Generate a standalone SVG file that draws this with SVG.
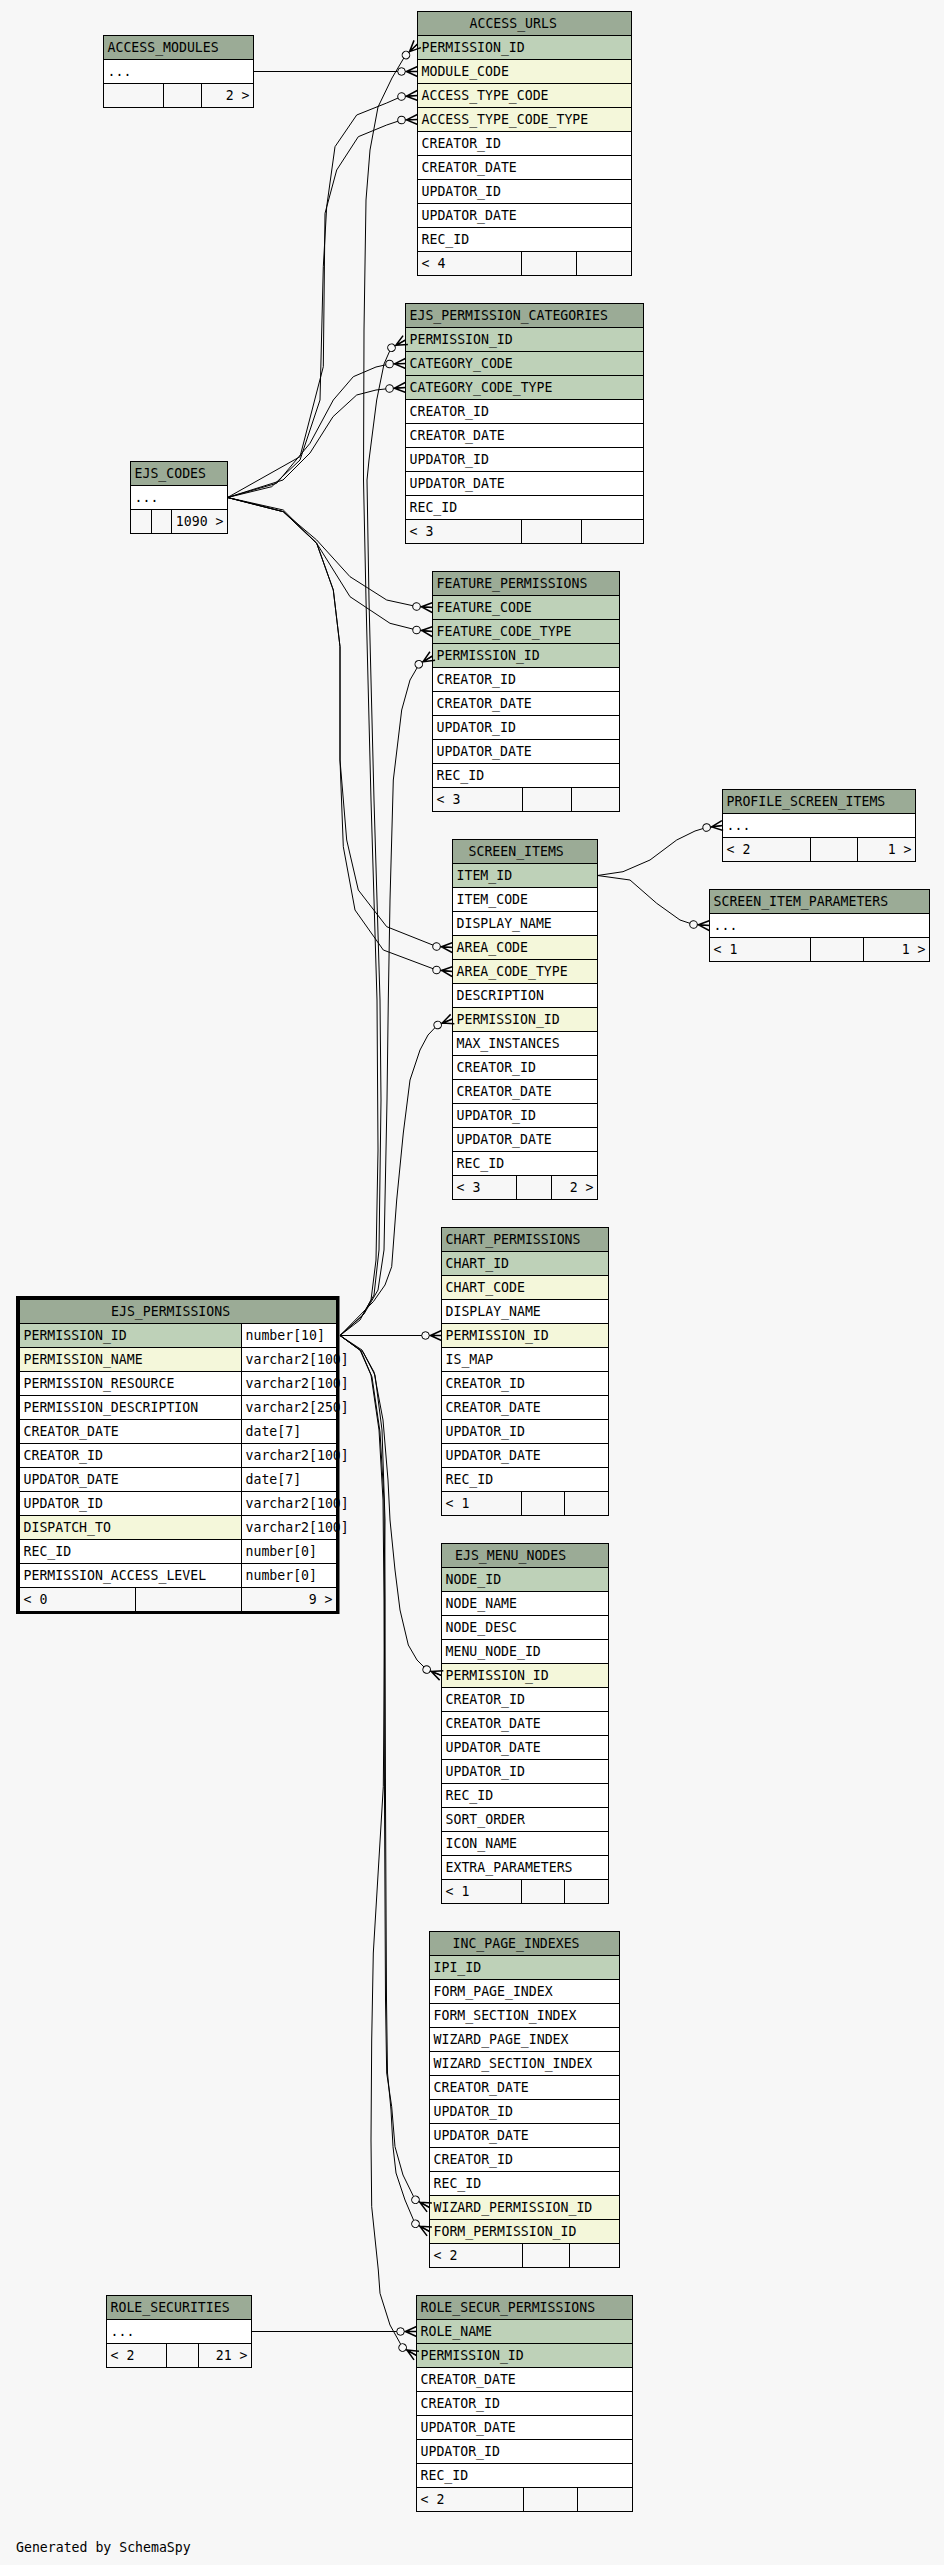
<svg xmlns="http://www.w3.org/2000/svg" width="944" height="2565" viewBox="0 0 944 2565">
<style>
rect{stroke:#000;stroke-width:1}
.h{fill:#9bab96}.pk{fill:#bed1b8}.fk{fill:#f4f7da}.w{fill:#fff}.f{fill:#f7f7f7}
.s{stroke:#000;stroke-width:1}
text{font-family:"DejaVu Sans Mono","Liberation Mono",monospace;font-size:13.2px;fill:#000}
.e{text-anchor:end}
#connectors path{fill:none;stroke:#000;stroke-width:1;marker-end:url(#crowodot)}
</style>
<defs>
<marker id="crowodot" markerUnits="userSpaceOnUse" markerWidth="28" markerHeight="16" viewBox="-24 -8 28 16" refX="0" refY="0" orient="auto" overflow="visible">
<path d="M-12,0 L0,0 M-11,0 L0,-5 M-11,0 L0,5" fill="none" stroke="#000" stroke-width="1.5"/>
<circle cx="-16" cy="0" r="3.8" fill="#f7f7f7" stroke="#000" stroke-width="1"/>
</marker>
</defs>
<rect x="0" y="0" width="944" height="2565" fill="#f7f7f7" style="stroke:none"/>

<g id="ACCESS_MODULES">
<rect class="h" x="103.5" y="35.5" width="150" height="24"/><text x="107.5" y="52">ACCESS_MODULES</text>
<rect class="w" x="103.5" y="59.5" width="150" height="24"/><text x="107.5" y="76">...</text>
<rect class="f" x="103.5" y="83.5" width="150" height="24"/><path class="s" d="M163.5,83.5V107.5M201.5,83.5V107.5"/><text class="e" x="249.5" y="100">2 &gt;</text>
</g>

<g id="ACCESS_URLS">
<rect class="h" x="417.5" y="11.5" width="214" height="24"/><text x="469.5" y="28">ACCESS_URLS</text>
<rect class="pk" x="417.5" y="35.5" width="214" height="24"/><text x="421.5" y="52">PERMISSION_ID</text>
<rect class="fk" x="417.5" y="59.5" width="214" height="24"/><text x="421.5" y="76">MODULE_CODE</text>
<rect class="fk" x="417.5" y="83.5" width="214" height="24"/><text x="421.5" y="100">ACCESS_TYPE_CODE</text>
<rect class="fk" x="417.5" y="107.5" width="214" height="24"/><text x="421.5" y="124">ACCESS_TYPE_CODE_TYPE</text>
<rect class="w" x="417.5" y="131.5" width="214" height="24"/><text x="421.5" y="148">CREATOR_ID</text>
<rect class="w" x="417.5" y="155.5" width="214" height="24"/><text x="421.5" y="172">CREATOR_DATE</text>
<rect class="w" x="417.5" y="179.5" width="214" height="24"/><text x="421.5" y="196">UPDATOR_ID</text>
<rect class="w" x="417.5" y="203.5" width="214" height="24"/><text x="421.5" y="220">UPDATOR_DATE</text>
<rect class="w" x="417.5" y="227.5" width="214" height="24"/><text x="421.5" y="244">REC_ID</text>
<rect class="f" x="417.5" y="251.5" width="214" height="24"/><path class="s" d="M521.5,251.5V275.5M576.5,251.5V275.5"/><text x="421.5" y="268">&lt; 4</text>
</g>

<g id="EJS_PERMISSION_CATEGORIES">
<rect class="h" x="405.5" y="303.5" width="238" height="24"/><text x="409.5" y="320">EJS_PERMISSION_CATEGORIES</text>
<rect class="pk" x="405.5" y="327.5" width="238" height="24"/><text x="409.5" y="344">PERMISSION_ID</text>
<rect class="pk" x="405.5" y="351.5" width="238" height="24"/><text x="409.5" y="368">CATEGORY_CODE</text>
<rect class="pk" x="405.5" y="375.5" width="238" height="24"/><text x="409.5" y="392">CATEGORY_CODE_TYPE</text>
<rect class="w" x="405.5" y="399.5" width="238" height="24"/><text x="409.5" y="416">CREATOR_ID</text>
<rect class="w" x="405.5" y="423.5" width="238" height="24"/><text x="409.5" y="440">CREATOR_DATE</text>
<rect class="w" x="405.5" y="447.5" width="238" height="24"/><text x="409.5" y="464">UPDATOR_ID</text>
<rect class="w" x="405.5" y="471.5" width="238" height="24"/><text x="409.5" y="488">UPDATOR_DATE</text>
<rect class="w" x="405.5" y="495.5" width="238" height="24"/><text x="409.5" y="512">REC_ID</text>
<rect class="f" x="405.5" y="519.5" width="238" height="24"/><path class="s" d="M521.5,519.5V543.5M581.5,519.5V543.5"/><text x="409.5" y="536">&lt; 3</text>
</g>

<g id="EJS_CODES">
<rect class="h" x="130.5" y="461.5" width="97" height="24"/><text x="134.5" y="478">EJS_CODES</text>
<rect class="w" x="130.5" y="485.5" width="97" height="24"/><text x="134.5" y="502">...</text>
<rect class="f" x="130.5" y="509.5" width="97" height="24"/><path class="s" d="M151.5,509.5V533.5M171.5,509.5V533.5"/><text class="e" x="223.5" y="526">1090 &gt;</text>
</g>

<g id="FEATURE_PERMISSIONS">
<rect class="h" x="432.5" y="571.5" width="187" height="24"/><text x="436.5" y="588">FEATURE_PERMISSIONS</text>
<rect class="pk" x="432.5" y="595.5" width="187" height="24"/><text x="436.5" y="612">FEATURE_CODE</text>
<rect class="pk" x="432.5" y="619.5" width="187" height="24"/><text x="436.5" y="636">FEATURE_CODE_TYPE</text>
<rect class="pk" x="432.5" y="643.5" width="187" height="24"/><text x="436.5" y="660">PERMISSION_ID</text>
<rect class="w" x="432.5" y="667.5" width="187" height="24"/><text x="436.5" y="684">CREATOR_ID</text>
<rect class="w" x="432.5" y="691.5" width="187" height="24"/><text x="436.5" y="708">CREATOR_DATE</text>
<rect class="w" x="432.5" y="715.5" width="187" height="24"/><text x="436.5" y="732">UPDATOR_ID</text>
<rect class="w" x="432.5" y="739.5" width="187" height="24"/><text x="436.5" y="756">UPDATOR_DATE</text>
<rect class="w" x="432.5" y="763.5" width="187" height="24"/><text x="436.5" y="780">REC_ID</text>
<rect class="f" x="432.5" y="787.5" width="187" height="24"/><path class="s" d="M522.5,787.5V811.5M571.5,787.5V811.5"/><text x="436.5" y="804">&lt; 3</text>
</g>

<g id="PROFILE_SCREEN_ITEMS">
<rect class="h" x="722.5" y="789.5" width="193" height="24"/><text x="726.5" y="806">PROFILE_SCREEN_ITEMS</text>
<rect class="w" x="722.5" y="813.5" width="193" height="24"/><text x="726.5" y="830">...</text>
<rect class="f" x="722.5" y="837.5" width="193" height="24"/><path class="s" d="M810.5,837.5V861.5M857.5,837.5V861.5"/><text x="726.5" y="854">&lt; 2</text><text class="e" x="911.5" y="854">1 &gt;</text>
</g>

<g id="SCREEN_ITEM_PARAMETERS">
<rect class="h" x="709.5" y="889.5" width="220" height="24"/><text x="713.5" y="906">SCREEN_ITEM_PARAMETERS</text>
<rect class="w" x="709.5" y="913.5" width="220" height="24"/><text x="713.5" y="930">...</text>
<rect class="f" x="709.5" y="937.5" width="220" height="24"/><path class="s" d="M810.5,937.5V961.5M863.5,937.5V961.5"/><text x="713.5" y="954">&lt; 1</text><text class="e" x="925.5" y="954">1 &gt;</text>
</g>

<g id="SCREEN_ITEMS">
<rect class="h" x="452.5" y="839.5" width="145" height="24"/><text x="468.5" y="856">SCREEN_ITEMS</text>
<rect class="pk" x="452.5" y="863.5" width="145" height="24"/><text x="456.5" y="880">ITEM_ID</text>
<rect class="w" x="452.5" y="887.5" width="145" height="24"/><text x="456.5" y="904">ITEM_CODE</text>
<rect class="w" x="452.5" y="911.5" width="145" height="24"/><text x="456.5" y="928">DISPLAY_NAME</text>
<rect class="fk" x="452.5" y="935.5" width="145" height="24"/><text x="456.5" y="952">AREA_CODE</text>
<rect class="fk" x="452.5" y="959.5" width="145" height="24"/><text x="456.5" y="976">AREA_CODE_TYPE</text>
<rect class="w" x="452.5" y="983.5" width="145" height="24"/><text x="456.5" y="1000">DESCRIPTION</text>
<rect class="fk" x="452.5" y="1007.5" width="145" height="24"/><text x="456.5" y="1024">PERMISSION_ID</text>
<rect class="w" x="452.5" y="1031.5" width="145" height="24"/><text x="456.5" y="1048">MAX_INSTANCES</text>
<rect class="w" x="452.5" y="1055.5" width="145" height="24"/><text x="456.5" y="1072">CREATOR_ID</text>
<rect class="w" x="452.5" y="1079.5" width="145" height="24"/><text x="456.5" y="1096">CREATOR_DATE</text>
<rect class="w" x="452.5" y="1103.5" width="145" height="24"/><text x="456.5" y="1120">UPDATOR_ID</text>
<rect class="w" x="452.5" y="1127.5" width="145" height="24"/><text x="456.5" y="1144">UPDATOR_DATE</text>
<rect class="w" x="452.5" y="1151.5" width="145" height="24"/><text x="456.5" y="1168">REC_ID</text>
<rect class="f" x="452.5" y="1175.5" width="145" height="24"/><path class="s" d="M516.5,1175.5V1199.5M551.5,1175.5V1199.5"/><text x="456.5" y="1192">&lt; 3</text><text class="e" x="593.5" y="1192">2 &gt;</text>
</g>

<g id="CHART_PERMISSIONS">
<rect class="h" x="441.5" y="1227.5" width="167" height="24"/><text x="445.5" y="1244">CHART_PERMISSIONS</text>
<rect class="pk" x="441.5" y="1251.5" width="167" height="24"/><text x="445.5" y="1268">CHART_ID</text>
<rect class="fk" x="441.5" y="1275.5" width="167" height="24"/><text x="445.5" y="1292">CHART_CODE</text>
<rect class="w" x="441.5" y="1299.5" width="167" height="24"/><text x="445.5" y="1316">DISPLAY_NAME</text>
<rect class="fk" x="441.5" y="1323.5" width="167" height="24"/><text x="445.5" y="1340">PERMISSION_ID</text>
<rect class="w" x="441.5" y="1347.5" width="167" height="24"/><text x="445.5" y="1364">IS_MAP</text>
<rect class="w" x="441.5" y="1371.5" width="167" height="24"/><text x="445.5" y="1388">CREATOR_ID</text>
<rect class="w" x="441.5" y="1395.5" width="167" height="24"/><text x="445.5" y="1412">CREATOR_DATE</text>
<rect class="w" x="441.5" y="1419.5" width="167" height="24"/><text x="445.5" y="1436">UPDATOR_ID</text>
<rect class="w" x="441.5" y="1443.5" width="167" height="24"/><text x="445.5" y="1460">UPDATOR_DATE</text>
<rect class="w" x="441.5" y="1467.5" width="167" height="24"/><text x="445.5" y="1484">REC_ID</text>
<rect class="f" x="441.5" y="1491.5" width="167" height="24"/><path class="s" d="M521.5,1491.5V1515.5M564.5,1491.5V1515.5"/><text x="445.5" y="1508">&lt; 1</text>
</g>

<g id="EJS_PERMISSIONS">
<rect class="h" x="19.5" y="1299.5" width="317" height="24"/><text x="111" y="1316">EJS_PERMISSIONS</text>
<rect class="pk" x="19.5" y="1323.5" width="222" height="24"/><rect class="w" x="241.5" y="1323.5" width="95" height="24"/><text x="23.5" y="1340">PERMISSION_ID</text><text x="245.5" y="1340">number[10]</text>
<rect class="fk" x="19.5" y="1347.5" width="222" height="24"/><rect class="w" x="241.5" y="1347.5" width="95" height="24"/><text x="23.5" y="1364">PERMISSION_NAME</text><text x="245.5" y="1364">varchar2[100]</text>
<rect class="w" x="19.5" y="1371.5" width="222" height="24"/><rect class="w" x="241.5" y="1371.5" width="95" height="24"/><text x="23.5" y="1388">PERMISSION_RESOURCE</text><text x="245.5" y="1388">varchar2[100]</text>
<rect class="w" x="19.5" y="1395.5" width="222" height="24"/><rect class="w" x="241.5" y="1395.5" width="95" height="24"/><text x="23.5" y="1412">PERMISSION_DESCRIPTION</text><text x="245.5" y="1412">varchar2[250]</text>
<rect class="w" x="19.5" y="1419.5" width="222" height="24"/><rect class="w" x="241.5" y="1419.5" width="95" height="24"/><text x="23.5" y="1436">CREATOR_DATE</text><text x="245.5" y="1436">date[7]</text>
<rect class="w" x="19.5" y="1443.5" width="222" height="24"/><rect class="w" x="241.5" y="1443.5" width="95" height="24"/><text x="23.5" y="1460">CREATOR_ID</text><text x="245.5" y="1460">varchar2[100]</text>
<rect class="w" x="19.5" y="1467.5" width="222" height="24"/><rect class="w" x="241.5" y="1467.5" width="95" height="24"/><text x="23.5" y="1484">UPDATOR_DATE</text><text x="245.5" y="1484">date[7]</text>
<rect class="w" x="19.5" y="1491.5" width="222" height="24"/><rect class="w" x="241.5" y="1491.5" width="95" height="24"/><text x="23.5" y="1508">UPDATOR_ID</text><text x="245.5" y="1508">varchar2[100]</text>
<rect class="fk" x="19.5" y="1515.5" width="222" height="24"/><rect class="w" x="241.5" y="1515.5" width="95" height="24"/><text x="23.5" y="1532">DISPATCH_TO</text><text x="245.5" y="1532">varchar2[100]</text>
<rect class="w" x="19.5" y="1539.5" width="222" height="24"/><rect class="w" x="241.5" y="1539.5" width="95" height="24"/><text x="23.5" y="1556">REC_ID</text><text x="245.5" y="1556">number[0]</text>
<rect class="w" x="19.5" y="1563.5" width="222" height="24"/><rect class="w" x="241.5" y="1563.5" width="95" height="24"/><text x="23.5" y="1580">PERMISSION_ACCESS_LEVEL</text><text x="245.5" y="1580">number[0]</text>
<rect class="f" x="19.5" y="1587.5" width="317" height="24"/><path class="s" d="M135.5,1587.5V1611.5M241.5,1587.5V1611.5"/><text x="23.5" y="1604">&lt; 0</text><text class="e" x="332.5" y="1604">9 &gt;</text>
<rect x="17.5" y="1297.5" width="320.5" height="315" fill="none" style="stroke-width:3"/>
</g>

<g id="EJS_MENU_NODES">
<rect class="h" x="441.5" y="1543.5" width="167" height="24"/><text x="455" y="1560">EJS_MENU_NODES</text>
<rect class="pk" x="441.5" y="1567.5" width="167" height="24"/><text x="445.5" y="1584">NODE_ID</text>
<rect class="w" x="441.5" y="1591.5" width="167" height="24"/><text x="445.5" y="1608">NODE_NAME</text>
<rect class="w" x="441.5" y="1615.5" width="167" height="24"/><text x="445.5" y="1632">NODE_DESC</text>
<rect class="w" x="441.5" y="1639.5" width="167" height="24"/><text x="445.5" y="1656">MENU_NODE_ID</text>
<rect class="fk" x="441.5" y="1663.5" width="167" height="24"/><text x="445.5" y="1680">PERMISSION_ID</text>
<rect class="w" x="441.5" y="1687.5" width="167" height="24"/><text x="445.5" y="1704">CREATOR_ID</text>
<rect class="w" x="441.5" y="1711.5" width="167" height="24"/><text x="445.5" y="1728">CREATOR_DATE</text>
<rect class="w" x="441.5" y="1735.5" width="167" height="24"/><text x="445.5" y="1752">UPDATOR_DATE</text>
<rect class="w" x="441.5" y="1759.5" width="167" height="24"/><text x="445.5" y="1776">UPDATOR_ID</text>
<rect class="w" x="441.5" y="1783.5" width="167" height="24"/><text x="445.5" y="1800">REC_ID</text>
<rect class="w" x="441.5" y="1807.5" width="167" height="24"/><text x="445.5" y="1824">SORT_ORDER</text>
<rect class="w" x="441.5" y="1831.5" width="167" height="24"/><text x="445.5" y="1848">ICON_NAME</text>
<rect class="w" x="441.5" y="1855.5" width="167" height="24"/><text x="445.5" y="1872">EXTRA_PARAMETERS</text>
<rect class="f" x="441.5" y="1879.5" width="167" height="24"/><path class="s" d="M521.5,1879.5V1903.5M564.5,1879.5V1903.5"/><text x="445.5" y="1896">&lt; 1</text>
</g>

<g id="INC_PAGE_INDEXES">
<rect class="h" x="429.5" y="1931.5" width="190" height="24"/><text x="452.5" y="1948">INC_PAGE_INDEXES</text>
<rect class="pk" x="429.5" y="1955.5" width="190" height="24"/><text x="433.5" y="1972">IPI_ID</text>
<rect class="w" x="429.5" y="1979.5" width="190" height="24"/><text x="433.5" y="1996">FORM_PAGE_INDEX</text>
<rect class="w" x="429.5" y="2003.5" width="190" height="24"/><text x="433.5" y="2020">FORM_SECTION_INDEX</text>
<rect class="w" x="429.5" y="2027.5" width="190" height="24"/><text x="433.5" y="2044">WIZARD_PAGE_INDEX</text>
<rect class="w" x="429.5" y="2051.5" width="190" height="24"/><text x="433.5" y="2068">WIZARD_SECTION_INDEX</text>
<rect class="w" x="429.5" y="2075.5" width="190" height="24"/><text x="433.5" y="2092">CREATOR_DATE</text>
<rect class="w" x="429.5" y="2099.5" width="190" height="24"/><text x="433.5" y="2116">UPDATOR_ID</text>
<rect class="w" x="429.5" y="2123.5" width="190" height="24"/><text x="433.5" y="2140">UPDATOR_DATE</text>
<rect class="w" x="429.5" y="2147.5" width="190" height="24"/><text x="433.5" y="2164">CREATOR_ID</text>
<rect class="w" x="429.5" y="2171.5" width="190" height="24"/><text x="433.5" y="2188">REC_ID</text>
<rect class="fk" x="429.5" y="2195.5" width="190" height="24"/><text x="433.5" y="2212">WIZARD_PERMISSION_ID</text>
<rect class="fk" x="429.5" y="2219.5" width="190" height="24"/><text x="433.5" y="2236">FORM_PERMISSION_ID</text>
<rect class="f" x="429.5" y="2243.5" width="190" height="24"/><path class="s" d="M522.5,2243.5V2267.5M569.5,2243.5V2267.5"/><text x="433.5" y="2260">&lt; 2</text>
</g>

<g id="ROLE_SECURITIES">
<rect class="h" x="106.5" y="2295.5" width="145" height="24"/><text x="110.5" y="2312">ROLE_SECURITIES</text>
<rect class="w" x="106.5" y="2319.5" width="145" height="24"/><text x="110.5" y="2336">...</text>
<rect class="f" x="106.5" y="2343.5" width="145" height="24"/><path class="s" d="M166.5,2343.5V2367.5M198.5,2343.5V2367.5"/><text x="110.5" y="2360">&lt; 2</text><text class="e" x="247.5" y="2360">21 &gt;</text>
</g>

<g id="ROLE_SECUR_PERMISSIONS">
<rect class="h" x="416.5" y="2295.5" width="216" height="24"/><text x="420.5" y="2312">ROLE_SECUR_PERMISSIONS</text>
<rect class="pk" x="416.5" y="2319.5" width="216" height="24"/><text x="420.5" y="2336">ROLE_NAME</text>
<rect class="pk" x="416.5" y="2343.5" width="216" height="24"/><text x="420.5" y="2360">PERMISSION_ID</text>
<rect class="w" x="416.5" y="2367.5" width="216" height="24"/><text x="420.5" y="2384">CREATOR_DATE</text>
<rect class="w" x="416.5" y="2391.5" width="216" height="24"/><text x="420.5" y="2408">CREATOR_ID</text>
<rect class="w" x="416.5" y="2415.5" width="216" height="24"/><text x="420.5" y="2432">UPDATOR_DATE</text>
<rect class="w" x="416.5" y="2439.5" width="216" height="24"/><text x="420.5" y="2456">UPDATOR_ID</text>
<rect class="w" x="416.5" y="2463.5" width="216" height="24"/><text x="420.5" y="2480">REC_ID</text>
<rect class="f" x="416.5" y="2487.5" width="216" height="24"/><path class="s" d="M523.5,2487.5V2511.5M577.5,2487.5V2511.5"/><text x="420.5" y="2504">&lt; 2</text>
</g>

<g id="connectors">
<path d="M253.5,71.5 L417.5,71.5"/>
<path d="M340,1335.5 L360,1320 L371,1300 L376,1260 L378,1150 L377,1000 L371,800 L366,600 L363.5,480 L364,330 L366,200 L370,150 L378,107 L392,78 L405,56 L417.5,44"/>
<path d="M340,1335.5 L362,1316 L374,1295 L379,1250 L381,1100 L380,1000 L374,800 L369,600 L367,480 L369,460 L376.7,400 L384,364 L391,348 L405.5,340"/>
<path d="M340,1335.5 L364,1314 L378,1290 L384,1250 L387,1100 L388.3,1000 L390,900 L393.3,780 L401.7,710 L410,680 L419.3,664 L432.5,656"/>
<path d="M340,1335.5 L373.3,1301.7 L385,1285 L391.7,1266.7 L396.7,1200 L403.3,1133 L410,1080 L420,1050 L428,1035 L437.5,1025 L452.5,1019"/>
<path d="M340,1335.5 L441.5,1335.5"/>
<path d="M340,1335.5 L362,1350 L374,1372 L383,1420 L388,1480 L390,1520 L395,1570 L400,1610 L408.3,1645 L417,1660 L426.5,1669.5 L441.5,1675.5"/>
<path d="M340,1335.5 L360,1350 L371,1375 L379,1430 L383,1500 L384,1600 L384.5,1800 L385.5,2000 L386.7,2073 L391.7,2106.7 L395,2146.7 L403,2175 L415,2199.5 L429.5,2207.5"/>
<path d="M340,1335.5 L361,1351 L372,1377 L380,1432 L384,1500 L385,1600 L385.5,1800 L386.5,2000 L387.5,2073 L391,2110 L393,2146.7 L396,2173 L405,2200 L415,2223.5 L429.5,2231.5"/>
<path d="M340,1335.5 L363,1352 L375,1375 L382,1430 L385,1520 L384.5,1650 L383.3,1786.7 L378.3,1870 L373.3,1953 L371.7,2040 L371,2140 L371.7,2206.7 L378.3,2270 L380,2293.3 L390,2325 L402.5,2347.5 L416.5,2355.5"/>
<path d="M251.5,2331.5 L416.5,2331.5"/>
<path d="M227.5,497.5 L271.7,486.7 L300,460 L320,400 L323.3,266.7 L326.7,206.7 L335,146.7 L356.7,115 L386.7,103 L401.5,96.5 L417.5,95.5"/>
<path d="M227.5,497.5 L300,456.7 L323.3,366.7 L325,213.3 L336.7,170 L358.3,136.7 L386.7,125 L401.5,120 L417.5,119.5"/>
<path d="M227.5,497.5 L276.7,483.3 L310,443.3 L333.3,400 L353.3,376.7 L376,367 L389.5,364 L405.5,363.5"/>
<path d="M227.5,497.5 L283,480 L310,453 L333,416.7 L356.7,395 L376,390 L389.5,388.5 L405.5,387.5"/>
<path d="M227.5,497.5 L283.3,511.7 L316.7,540 L350,576.7 L386.7,600 L416.5,606.5 L432.5,607.5"/>
<path d="M227.5,497.5 L283.3,510 L316.7,543.3 L350,596.7 L390,623.3 L416.5,630 L432.5,631.5"/>
<path d="M227.5,497.5 L283.3,511.7 L316.7,543.3 L333.3,590 L340,646.7 L340,760 L346.7,840 L358.3,890 L386.7,926.7 L436.5,946.5 L452.5,947.5"/>
<path d="M227.5,497.5 L283.3,511.7 L316.7,543.3 L333.3,590 L340,646.7 L340,760 L343.3,846.7 L355,910 L383.3,950 L436.5,970 L452.5,971.5"/>
<path d="M597.5,875.5 L623,871.7 L650,860 L676.7,840 L695,831 L706.5,827.5 L722.5,825.5"/>
<path d="M597.5,875.5 L630,880 L656.7,903.3 L680,920 L693.5,924.5 L709.5,925.5"/>
</g>

<text x="16" y="2552">Generated by SchemaSpy</text>
</svg>
